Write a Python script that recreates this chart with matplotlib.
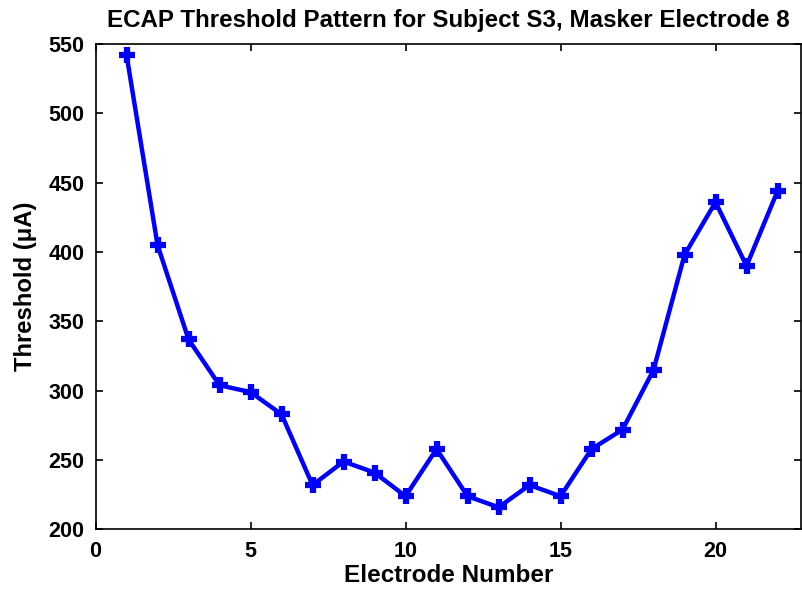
import numpy as np
import matplotlib
matplotlib.use("Agg")
import matplotlib.pyplot as plt

# ECAP thresholds per recording electrode (masker on electrode 8)
electrodes = list(range(1, 23))
thresholds = [542, 405, 337, 304, 299, 283, 232, 249, 241, 224, 258,
              224, 216, 232, 224, 258, 272, 315, 398, 436, 390, 444]

x_ticks = [0, 5, 10, 15, 20]
y_ticks = [200, 250, 300, 350, 400, 450, 500, 550]

plt.rcParams['font.family'] = ['Liberation Sans', 'DejaVu Sans']
plt.rcParams['font.weight'] = 'bold'

fig = plt.figure(figsize=(8.03, 5.96), dpi=100)
ax = fig.add_axes([0.119, 0.1116, 0.879, 0.8146])

ax.plot(electrodes, thresholds, color='#0000ff', linewidth=3.2,
        marker='+', markersize=11, markeredgewidth=4.5)

ax.set_xlim(0, 22.77)
ax.set_ylim(200, 550)
ax.set_xticks(x_ticks)
ax.set_yticks(y_ticks)
ax.tick_params(direction='in', length=5, width=1.2, labelsize=15.5,
               top=True, right=True, pad=8)
for lbl in ax.get_xticklabels() + ax.get_yticklabels():
    lbl.set_fontweight('bold')
for s in ax.spines.values():
    s.set_linewidth(1.2)

ax.set_title('ECAP Threshold Pattern for Subject S3, Masker Electrode 8',
             fontsize=17.4, fontweight='bold', pad=12)
ax.set_xlabel('Electrode Number', fontsize=17.5, fontweight='bold', labelpad=2)
ax.set_ylabel('Threshold (\u03bcA)', fontsize=17.2, fontweight='bold', labelpad=8)

fig.savefig('out.png', dpi=100)
